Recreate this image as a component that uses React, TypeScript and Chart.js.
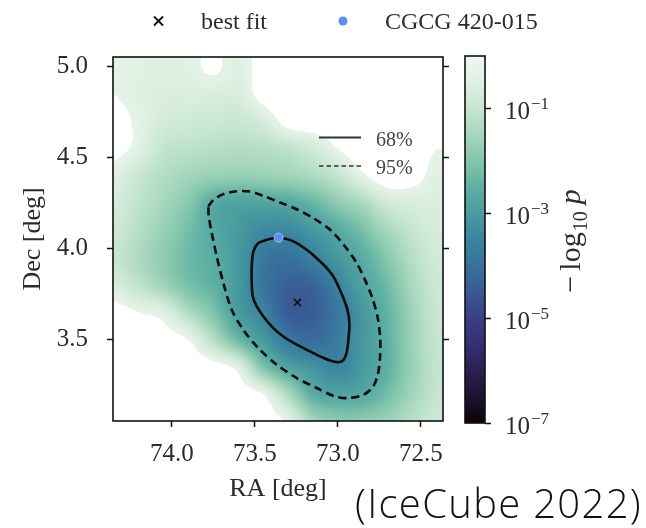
import React, { useEffect, useRef } from "react";
import { Chart, registerables } from "chart.js";

Chart.register(...registerables);

// ---------- axis ranges and ticks ----------
const RA_MIN = 72.366;
const RA_MAX = 74.354;
const DEC_MIN = 3.054;
const DEC_MAX = 5.053;
const RA_TICKS = [74.0, 73.5, 73.0, 72.5];
const DEC_TICKS = [3.5, 4.0, 4.5, 5.0];
const CBAR_MIN = 1e-7;
const CBAR_MAX = 1;
const CBAR_TICKS = [1e-1, 1e-3, 1e-5, 1e-7];

// ---------- heat map grid (log10 p), rows = Dec (top to bottom), cols = RA (left to right) ----------
const GRID_RA = [74.35, 74.2, 74.05, 73.9, 73.75, 73.6, 73.45, 73.3, 73.15, 73.0, 72.85, 72.7, 72.55, 72.4];
const GRID_DEC = [5.0, 4.85, 4.7, 4.55, 4.4, 4.25, 4.1, 3.95, 3.8, 3.65, 3.5, 3.35, 3.2, 3.05];
const LOG10_P = [
  [-0.4, -0.45, -0.5, -0.45, -0.2, -0.5, -0.1, 0, 0, 0, 0, 0, 0, 0],
  [-0.3, -0.5, -0.6, -0.6, -0.6, -0.65, -0.1, 0, 0, 0, 0, 0, 0, 0],
  [-0.1, -0.4, -0.75, -0.85, -0.9, -0.95, -0.7, -0.1, 0, 0, 0, 0, 0, 0],
  [-0.15, -0.45, -1.05, -1.15, -1.25, -1.3, -1.25, -1.1, -0.8, -0.3, 0, 0, 0, -0.3],
  [-0.5, -0.95, -1.3, -1.55, -1.7, -1.75, -1.7, -1.6, -1.4, -1.05, -0.4, 0, -0.1, -0.5],
  [-0.7, -1.1, -1.5, -1.95, -2.65, -2.85, -2.8, -2.7, -2.4, -1.85, -1.45, -0.8, -0.65, -0.6],
  [-0.85, -1.25, -1.7, -2.2, -2.7, -3.05, -3.4, -3.45, -3.1, -2.7, -2.15, -1.5, -1.0, -0.7],
  [-1.0, -1.4, -1.85, -2.3, -2.6, -3.05, -3.8, -4.0, -3.6, -3.1, -2.6, -1.95, -1.25, -0.8],
  [-0.65, -1.1, -1.6, -2.15, -2.5, -3.1, -3.9, -4.35, -4.3, -3.55, -2.85, -2.25, -1.45, -0.9],
  [-0.1, -0.3, -0.5, -1.35, -2.05, -3.0, -3.55, -4.45, -4.4, -3.85, -3.1, -2.45, -1.6, -0.95],
  [0, 0, -0.1, -0.3, -1.25, -2.3, -3.05, -3.8, -4.1, -3.7, -3.1, -2.5, -1.65, -1.0],
  [0, 0, 0, 0, -0.1, -0.5, -2.05, -2.85, -3.2, -3.5, -3.05, -2.5, -1.7, -1.05],
  [0, 0, 0, 0, 0, -0.05, -0.3, -1.4, -2.6, -2.8, -2.7, -2.2, -1.55, -1.0],
  [0, 0, 0, 0, 0, 0, -0.1, -0.4, -1.5, -1.9, -1.85, -1.65, -1.25, -0.9],
];
const MASK_LEVEL = -0.3; // cells with log10 p above this are left blank (white)

// ---------- contours ----------
const C68_RA = [73.358, 73.307, 73.247, 73.187, 73.127, 73.066, 73.026, 72.996, 72.966, 72.942, 72.93, 72.936, 72.95, 72.976, 73.026, 73.096, 73.167, 73.247, 73.328, 73.388, 73.448, 73.488, 73.512, 73.518, 73.518, 73.508, 73.478, 73.428, 73.388, 73.358];
const C68_DEC = [4.058, 4.053, 4.031, 3.994, 3.948, 3.894, 3.847, 3.793, 3.729, 3.665, 3.592, 3.5, 3.418, 3.381, 3.381, 3.405, 3.436, 3.473, 3.518, 3.564, 3.628, 3.683, 3.738, 3.811, 3.902, 3.985, 4.031, 4.049, 4.058, 4.058];
const C95_RA = [73.78, 73.749, 73.689, 73.608, 73.528, 73.448, 73.348, 73.247, 73.147, 73.046, 72.956, 72.886, 72.836, 72.795, 72.761, 72.745, 72.745, 72.759, 72.789, 72.846, 72.936, 73.016, 73.127, 73.247, 73.367, 73.478, 73.569, 73.639, 73.689, 73.729, 73.759, 73.777, 73.78];
const C95_DEC = [4.232, 4.268, 4.3, 4.316, 4.314, 4.29, 4.254, 4.217, 4.168, 4.104, 4.012, 3.921, 3.829, 3.738, 3.628, 3.518, 3.408, 3.308, 3.24, 3.198, 3.18, 3.189, 3.235, 3.29, 3.363, 3.454, 3.555, 3.665, 3.811, 3.957, 4.086, 4.177, 4.232];

// ---------- markers ----------
const BEST_FIT = { ra: 73.243, dec: 3.705 };
const SOURCE = { ra: 73.356, dec: 4.061 };

// ---------- colour map (dark -> light) ----------
const CMAP_STOPS = [0, 0.07, 0.143, 0.214, 0.286, 0.357, 0.429, 0.5, 0.571, 0.643, 0.714, 0.786, 0.857, 0.929, 1];
const CMAP_COLORS = ["#0b0405", "#1e1230", "#2d1f52", "#372f72", "#3a4088", "#3a5a96", "#38729c", "#3a869f", "#4a9c9f", "#5fb0a4", "#84c6ad", "#a6d7bd", "#c6e6d1", "#e0f0e3", "#f2f7f2"];

const SERIF = "'Liberation Serif', 'DejaVu Serif', serif";
const TEXT = "#2b2b2b";

function hexToRgb(h: string): number[] {
  const n = parseInt(h.slice(1), 16);
  return [(n >> 16) & 255, (n >> 8) & 255, n & 255];
}
const CMAP_RGB = CMAP_COLORS.map(hexToRgb);

function cmap(t: number): number[] {
  const tt = Math.min(1, Math.max(0, t));
  for (let k = 1; k < CMAP_STOPS.length; k++) {
    if (tt <= CMAP_STOPS[k]) {
      const f = (tt - CMAP_STOPS[k - 1]) / (CMAP_STOPS[k] - CMAP_STOPS[k - 1]);
      const a = CMAP_RGB[k - 1];
      const b = CMAP_RGB[k];
      return [a[0] + (b[0] - a[0]) * f, a[1] + (b[1] - a[1]) * f, a[2] + (b[2] - a[2]) * f];
    }
  }
  return CMAP_RGB[CMAP_RGB.length - 1];
}

function logToT(lp: number) {
  const lo = Math.log10(CBAR_MIN);
  const hi = Math.log10(CBAR_MAX);
  return (lp - lo) / (hi - lo);
}

const clamp = (v: number, a: number, b: number) => Math.min(b, Math.max(a, v));

function catmull(p0: number, p1: number, p2: number, p3: number, t: number) {
  return 0.5 * (2 * p1 + (-p0 + p2) * t + (2 * p0 - 5 * p1 + 4 * p2 - p3) * t * t + (-p0 + 3 * p1 - 3 * p2 + p3) * t * t * t);
}

function sampleLogP(ra: number, dec: number) {
  const nC = GRID_RA.length;
  const nR = GRID_DEC.length;
  const u = clamp((GRID_RA[0] - ra) / (GRID_RA[0] - GRID_RA[1]), 0, nC - 1);
  const v = clamp((GRID_DEC[0] - dec) / (GRID_DEC[0] - GRID_DEC[1]), 0, nR - 1);
  const i = Math.min(Math.floor(u), nC - 2);
  const j = Math.min(Math.floor(v), nR - 2);
  const fu = u - i;
  const fv = v - j;
  const g = (r: number, c: number) => LOG10_P[clamp(r, 0, nR - 1)][clamp(c, 0, nC - 1)];
  const rows: number[] = [];
  for (let dr = -1; dr <= 2; dr++) {
    rows.push(catmull(g(j + dr, i - 1), g(j + dr, i), g(j + dr, i + 1), g(j + dr, i + 2), fu));
  }
  return clamp(catmull(rows[0], rows[1], rows[2], rows[3], fv), -7, 0);
}

const heatPlugin = {
  id: "heat",
  beforeDatasetsDraw(chart: any) {
    const { ctx, chartArea: a, scales } = chart;
    const xs = scales.x;
    const ys = scales.y;
    const w = Math.round(a.right - a.left);
    const h = Math.round(a.bottom - a.top);
    const off = document.createElement("canvas");
    off.width = w;
    off.height = h;
    const octx = off.getContext("2d")!;
    const img = octx.createImageData(w, h);
    for (let j = 0; j < h; j++) {
      const dec = ys.getValueForPixel(a.top + j + 0.5);
      for (let i = 0; i < w; i++) {
        const ra = xs.getValueForPixel(a.left + i + 0.5);
        const lp = sampleLogP(ra, dec);
        const c = lp > MASK_LEVEL ? [255, 255, 255] : cmap(logToT(lp));
        const k = (j * w + i) * 4;
        img.data[k] = c[0];
        img.data[k + 1] = c[1];
        img.data[k + 2] = c[2];
        img.data[k + 3] = 255;
      }
    }
    octx.putImageData(img, 0, 0);
    ctx.drawImage(off, a.left, a.top);
  },
};

const decorPlugin = {
  id: "decor",
  afterDraw(chart: any) {
    const { ctx, chartArea: a } = chart;
    ctx.save();
    // frame
    ctx.strokeStyle = "#111";
    ctx.lineWidth = 1.6;
    ctx.strokeRect(a.left, a.top, a.right - a.left, a.bottom - a.top);

    // inner legend (contour levels)
    ctx.strokeStyle = "#333";
    ctx.lineWidth = 2;
    ctx.setLineDash([]);
    ctx.beginPath();
    ctx.moveTo(319, 137.5);
    ctx.lineTo(361, 137.5);
    ctx.stroke();
    ctx.lineWidth = 1.6;
    ctx.setLineDash([4.5, 3]);
    ctx.beginPath();
    ctx.moveTo(319, 166);
    ctx.lineTo(361, 166);
    ctx.stroke();
    ctx.setLineDash([]);
    ctx.fillStyle = "#444";
    ctx.font = `20px ${SERIF}`;
    ctx.textBaseline = "alphabetic";
    ctx.textAlign = "left";
    ctx.fillText("68%", 376, 146);
    ctx.fillText("95%", 376, 174);

    // top legend
    ctx.strokeStyle = "#111";
    ctx.lineWidth = 1.8;
    ctx.beginPath();
    ctx.moveTo(154, 16.5);
    ctx.lineTo(163, 25.5);
    ctx.moveTo(163, 16.5);
    ctx.lineTo(154, 25.5);
    ctx.stroke();
    ctx.fillStyle = "#5c8cf5";
    ctx.beginPath();
    ctx.arc(343, 21, 4.5, 0, Math.PI * 2);
    ctx.fill();
    ctx.fillStyle = TEXT;
    ctx.font = `24px ${SERIF}`;
    ctx.fillText("best fit", 201, 29);
    ctx.fillText("CGCG 420-015", 385, 29);
    ctx.restore();
  },
};

const cbarPlugin = {
  id: "cbar",
  beforeDatasetsDraw(chart: any) {
    const { ctx, chartArea: a, scales } = chart;
    const ys = scales.y;
    for (let j = Math.floor(a.top); j < Math.ceil(a.bottom); j++) {
      const val = ys.getValueForPixel(j + 0.5);
      const c = cmap(logToT(Math.log10(val)));
      ctx.fillStyle = `rgb(${c[0] | 0},${c[1] | 0},${c[2] | 0})`;
      ctx.fillRect(a.left, j, a.right - a.left, 1);
    }
  },
  afterDraw(chart: any) {
    const { ctx, chartArea: a, scales } = chart;
    const ys = scales.y;
    ctx.save();
    ctx.strokeStyle = "#111";
    ctx.lineWidth = 1.6;
    ctx.strokeRect(a.left, a.top, a.right - a.left, a.bottom - a.top);
    ctx.fillStyle = TEXT;
    ctx.textAlign = "left";
    ctx.textBaseline = "alphabetic";
    for (const v of CBAR_TICKS) {
      const py = ys.getPixelForValue(v);
      const ex = Math.round(Math.log10(v));
      ctx.font = `25px ${SERIF}`;
      ctx.fillText("10", 50, py + 10.5);
      const w = ctx.measureText("10").width;
      ctx.font = `17px ${SERIF}`;
      ctx.fillText((ex < 0 ? "\u2212" : "") + Math.abs(ex), 50 + w + 1, py + 1);
    }
    // colour bar label: −log10 p
    ctx.translate(125, 241);
    ctx.rotate(-Math.PI / 2);
    const f1 = `30px ${SERIF}`;
    const f2 = `20px ${SERIF}`;
    const f3 = `italic 30px ${SERIF}`;
    ctx.font = f1;
    const wm = ctx.measureText("\u2212").width;
    const w1 = ctx.measureText("log").width;
    ctx.font = f2;
    const w2 = ctx.measureText("10").width;
    ctx.font = f3;
    const w3 = ctx.measureText("p").width;
    const gap1 = 5;
    const gap2 = 7;
    let x0 = -(wm + gap1 + w1 + 1 + w2 + gap2 + w3) / 2;
    ctx.font = f1;
    ctx.fillText("\u2212", x0, 0);
    x0 += wm + gap1;
    ctx.fillText("log", x0, 0);
    x0 += w1 + 1;
    ctx.font = f2;
    ctx.fillText("10", x0, 7);
    x0 += w2 + gap2;
    ctx.font = f3;
    ctx.fillText("p", x0, 0);
    ctx.restore();
  },
};

const tickFont = { family: SERIF, size: 25 };
const gridOpts = { drawOnChartArea: false, drawTicks: true, tickLength: 6, tickColor: "#111", tickWidth: 1.5 };

export default function App() {
  const mainRef = useRef<HTMLCanvasElement>(null);
  const cbRef = useRef<HTMLCanvasElement>(null);

  useEffect(() => {
    const c68 = C68_RA.map((x, i) => ({ x, y: C68_DEC[i] }));
    const c95 = C95_RA.map((x, i) => ({ x, y: C95_DEC[i] }));
    const main = new Chart(mainRef.current!, {
      type: "scatter",
      data: {
        datasets: [
          {
            label: "CGCG 420-015",
            data: [{ x: SOURCE.ra, y: SOURCE.dec }],
            pointStyle: "circle",
            pointRadius: 4.5,
            backgroundColor: "#5c8cf5",
            borderColor: "#a8c0f4",
            borderWidth: 1,
          },
          {
            label: "best fit",
            data: [{ x: BEST_FIT.ra, y: BEST_FIT.dec }],
            pointStyle: "crossRot",
            pointRadius: 5,
            borderColor: "#111",
            borderWidth: 1.6,
          },
          {
            label: "68%",
            data: c68,
            showLine: true,
            borderColor: "#0a0a0a",
            borderWidth: 2.6,
            pointRadius: 0,
            tension: 0.3,
          },
          {
            label: "95%",
            data: c95,
            showLine: true,
            borderColor: "#0a0a0a",
            borderWidth: 2.6,
            borderDash: [8, 5],
            pointRadius: 0,
            tension: 0.3,
          },
        ],
      } as any,
      options: {
        responsive: false,
        animation: false,
        layout: { padding: { left: 0, top: 57, right: 0, bottom: 0 } },
        plugins: { legend: { display: false }, tooltip: { enabled: false } },
        scales: {
          x: {
            type: "linear",
            min: RA_MIN,
            max: RA_MAX,
            reverse: true,
            position: "bottom",
            afterBuildTicks: (s: any) => {
              s.ticks = RA_TICKS.map((v) => ({ value: v }));
            },
            afterFit: (s: any) => {
              s.height = 528 - 421;
            },
            ticks: { font: tickFont, color: TEXT, padding: 12, maxRotation: 0, callback: (v: any) => Number(v).toFixed(1) },
            grid: gridOpts,
            border: { display: false },
            title: { display: true, text: "RA [deg]", font: { family: SERIF, size: 26 }, color: TEXT, padding: { top: 0, bottom: 23 } },
          },
          y: {
            type: "linear",
            min: DEC_MIN,
            max: DEC_MAX,
            position: "left",
            afterBuildTicks: (s: any) => {
              s.ticks = DEC_TICKS.map((v) => ({ value: v }));
            },
            afterFit: (s: any) => {
              s.width = 113;
            },
            ticks: { font: tickFont, color: TEXT, padding: 19, callback: (v: any) => Number(v).toFixed(1) },
            grid: gridOpts,
            border: { display: false },
            title: { display: true, text: "Dec [deg]", font: { family: SERIF, size: 26 }, color: TEXT, padding: { top: 18, bottom: 0 } },
          },
          y2: {
            type: "linear",
            min: DEC_MIN,
            max: DEC_MAX,
            position: "right",
            afterBuildTicks: (s: any) => {
              s.ticks = DEC_TICKS.map((v) => ({ value: v }));
            },
            afterFit: (s: any) => {
              s.width = 646 - 443;
            },
            ticks: { display: false },
            grid: gridOpts,
            border: { display: false },
          },
        },
      } as any,
      plugins: [heatPlugin, decorPlugin],
    });

    const cbar = new Chart(cbRef.current!, {
      type: "scatter",
      data: { datasets: [] },
      options: {
        responsive: false,
        animation: false,
        layout: { padding: { left: 10, top: 56, right: 0, bottom: 528 - 423 } },
        plugins: { legend: { display: false }, tooltip: { enabled: false } },
        scales: {
          x: { type: "linear", display: false, min: 0, max: 1 },
          y: {
            type: "logarithmic",
            position: "right",
            min: CBAR_MIN,
            max: CBAR_MAX,
            afterBuildTicks: (s: any) => {
              s.ticks = CBAR_TICKS.map((v) => ({ value: v }));
            },
            afterFit: (s: any) => {
              s.width = 191 - 10 - 20;
            },
            ticks: { display: false },
            grid: gridOpts,
            border: { display: false },
          },
        },
      } as any,
      plugins: [cbarPlugin],
    });

    return () => {
      main.destroy();
      cbar.destroy();
    };
  }, []);

  return (
    <div style={{ position: "fixed", left: 0, top: 0, width: 646, height: 528, background: "#fff" }}>
      <canvas ref={mainRef} width={646} height={528} style={{ position: "absolute", left: 0, top: 0, width: 646, height: 528 }} />
      <canvas ref={cbRef} width={191} height={528} style={{ position: "absolute", left: 455, top: 0, width: 191, height: 528 }} />
      <div
        style={{
          position: "absolute",
          left: 355,
          top: 483,
          fontFamily: "'Open Sans', sans-serif",
          fontWeight: 300,
          fontSize: 40,
          lineHeight: "40px",
          letterSpacing: 1.3,
          color: "#111",
          whiteSpace: "nowrap",
        }}
      >
        (IceCube 2022)
      </div>
    </div>
  );
}
